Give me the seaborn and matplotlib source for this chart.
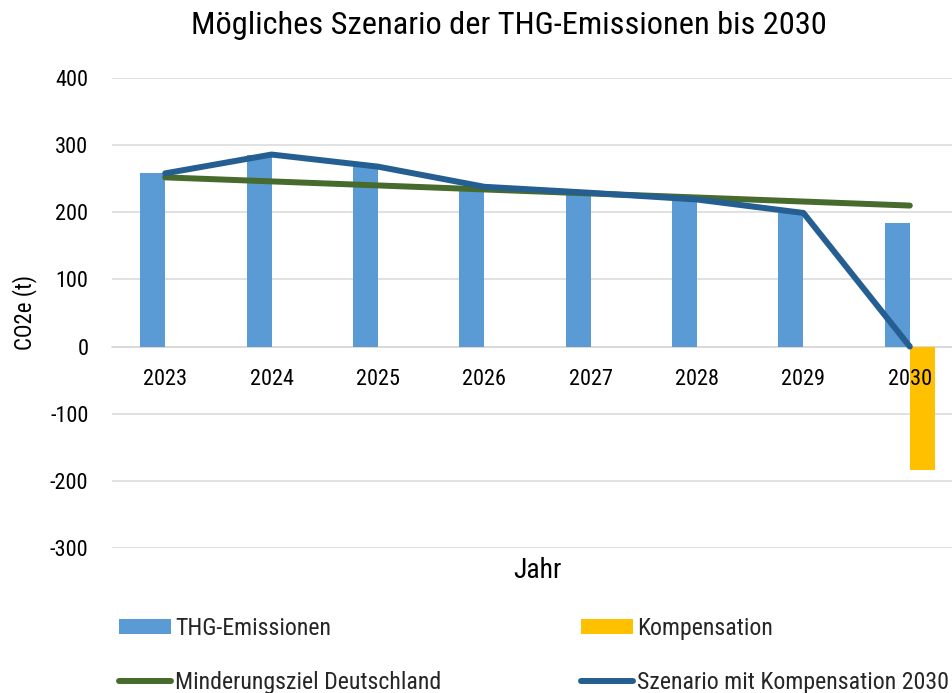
import matplotlib
matplotlib.use("Agg")
import matplotlib.pyplot as plt
import seaborn as sns
import pandas as pd
from matplotlib import font_manager
from matplotlib.patches import Patch
from matplotlib.lines import Line2D
from matplotlib.ticker import FixedLocator

# ---- data ----
years = ["2023", "2024", "2025", "2026", "2027", "2028", "2029", "2030"]
thg_emissionen = [258, 286, 268, 238, 229, 219, 199, 184]
kompensation = [0, 0, 0, 0, 0, 0, 0, -184]
minderungsziel = [252, 246, 240, 234, 228, 222, 216, 210]
szenario = [258, 286, 268, 238, 229, 219, 199, 0]
y_ticks = [-300, -200, -100, 0, 100, 200, 300, 400]

title = "Mögliches Szenario der THG-Emissionen bis 2030"

sns.set_theme(style="white")
names = {f.name for f in font_manager.fontManager.ttflist}
family = "DejaVu Sans"
for cand in ["Roboto Condensed", "Archivo Narrow", "Liberation Sans Narrow", "Barlow Condensed"]:
    if cand in names:
        family = cand
        break
plt.rcParams["font.family"] = [family, "DejaVu Sans"]

C_BAR = "#5b9bd5"
C_KOMP = "#ffc000"
C_ZIEL = "#466b2c"
C_SZEN = "#255e91"
C_GRID = "#d9d9d9"

W, H = 952, 693
fig = plt.figure(figsize=(W / 100, H / 100), dpi=100)
ax = fig.add_axes([112 / W, 1 - 548 / H, (963 - 112) / W, (548 - 78) / H])

bars = pd.DataFrame({
    "Jahr": years * 2,
    "Wert": thg_emissionen + kompensation,
    "Serie": ["THG-Emissionen"] * len(years) + ["Kompensation"] * len(years),
})
sns.barplot(data=bars, x="Jahr", y="Wert", hue="Serie", order=years,
            hue_order=["THG-Emissionen", "Kompensation"],
            palette={"THG-Emissionen": C_BAR, "Kompensation": C_KOMP},
            saturation=1, width=0.47, dodge=True, linewidth=0, errorbar=None,
            legend=False, ax=ax, zorder=2)

lines = pd.DataFrame({"pos": list(range(len(years))),
                      "Minderungsziel": minderungsziel,
                      "Szenario": szenario})
sns.lineplot(data=lines, x="pos", y="Minderungsziel", color=C_ZIEL, lw=4.3,
             ax=ax, zorder=3, solid_capstyle="round", solid_joinstyle="round")
sns.lineplot(data=lines, x="pos", y="Szenario", color=C_SZEN, lw=4.3,
             ax=ax, zorder=4, solid_capstyle="round", solid_joinstyle="round")

ax.set_xlim(-0.5, len(years) - 0.5)
ax.set_ylim(-300, 400)
ax.set_yticks(y_ticks)
ax.set_yticklabels([str(v) for v in y_ticks])
ax.grid(False)
for yv in y_ticks:
    ax.axhline(yv, color=C_GRID, lw=1.1, zorder=0.5)
ax.set_axisbelow(False)

for s in ["top", "right", "left"]:
    ax.spines[s].set_visible(False)
ax.spines["bottom"].set_position(("data", 0))
ax.spines["bottom"].set_color(C_GRID)
ax.spines["bottom"].set_linewidth(1.1)
ax.spines["bottom"].set_zorder(1)

FS = 16
ax.set_xticks(range(len(years)))
ax.set_xticklabels(years)
ax.xaxis.set_minor_locator(FixedLocator([i - 0.5 for i in range(len(years) + 1)]))
ax.tick_params(axis="x", which="major", length=0, pad=16.5, labelsize=FS, labelcolor="black")
ax.tick_params(axis="x", which="minor", length=6, width=1.1, color=C_GRID, direction="out")
ax.tick_params(axis="y", length=0, pad=17, labelsize=FS, labelcolor="black")

ax.set_xlabel("Jahr", fontsize=20, color="black", va="center")
ax.xaxis.set_label_coords(0.5, -(571 - 548) / (548 - 78))
ax.set_ylabel("CO2e (t)", fontsize=FS + 0.5, color="black", va="center")
ax.yaxis.set_label_coords(-(112 - 25) / (963 - 112), (548 - 312) / (548 - 78))

fig.text(509 / W, 1 - 25 / H, title, ha="center", va="center", fontsize=23.3, color="black")

h_thg = Patch(facecolor=C_BAR, edgecolor="none", label="THG-Emissionen")
h_komp = Patch(facecolor=C_KOMP, edgecolor="none", label="Kompensation")
h_ziel = Line2D([], [], color=C_ZIEL, lw=4.3, solid_capstyle="round", label="Minderungsziel Deutschland")
h_szen = Line2D([], [], color=C_SZEN, lw=4.3, solid_capstyle="round", label="Szenario mit Kompensation 2030")

common = dict(loc="upper left", frameon=False, fontsize=17.2, handlelength=2.18,
              handleheight=0.58, handletextpad=0.18, labelspacing=1.30,
              borderpad=0, borderaxespad=0)
leg1 = fig.legend(handles=[h_thg, h_ziel], bbox_to_anchor=(119 / W, 1 - 617 / H), **common)
leg2 = fig.legend(handles=[h_komp, h_szen], bbox_to_anchor=(581 / W, 1 - 617 / H), **common)

fig.savefig("out.png", dpi=100)
